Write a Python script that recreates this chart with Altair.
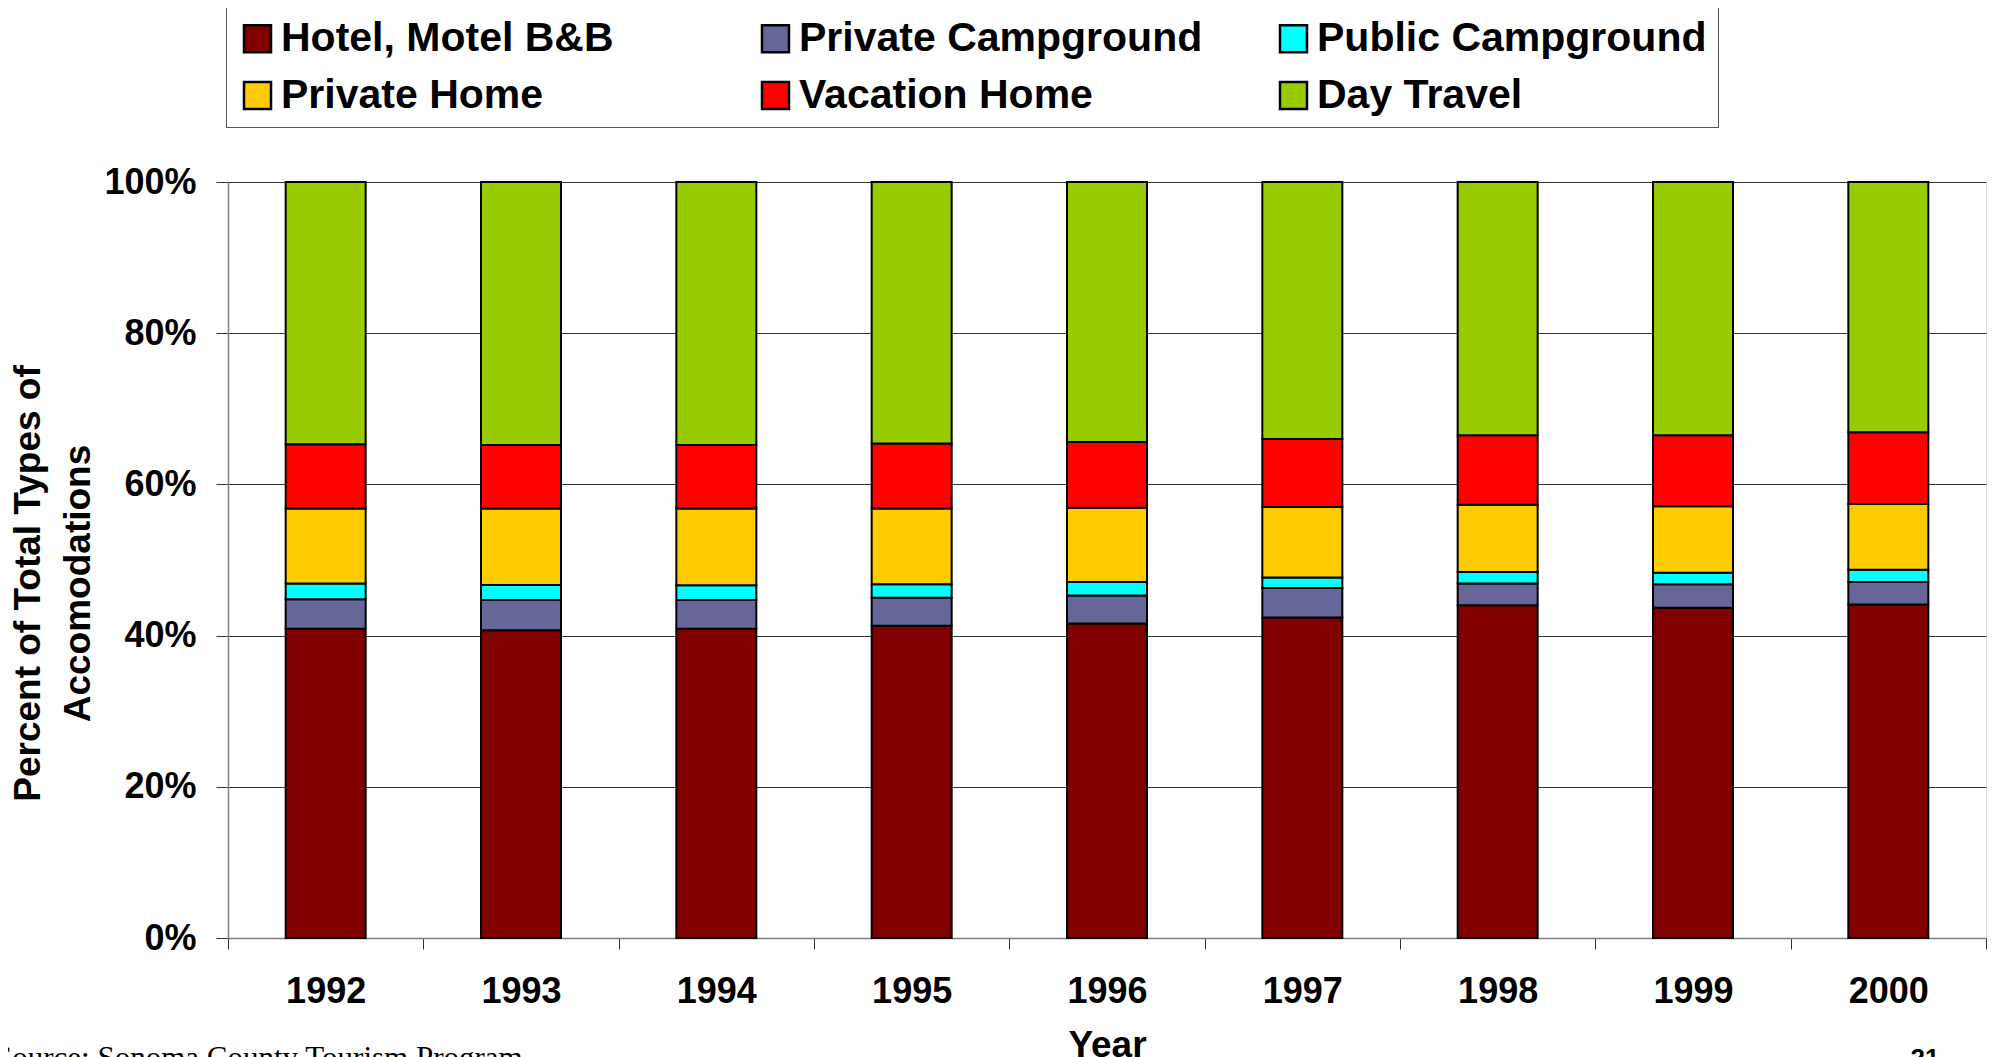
import altair as alt
import pandas as pd

years = ["1992", "1993", "1994", "1995", "1996", "1997", "1998", "1999", "2000"]
categories = ["Hotel, Motel B&B", "Private Campground", "Public Campground",
              "Private Home", "Vacation Home", "Day Travel"]
colors = ["#800000", "#666699", "#00FFFF", "#FFCC00", "#FF0000", "#99CC00"]

hotel = [40.9, 40.7, 40.9, 41.3, 41.6, 42.4, 44.0, 43.7, 44.1]
private_camp = [3.9, 4.0, 3.8, 3.7, 3.7, 3.9, 2.9, 3.1, 3.0]
public_camp = [2.1, 2.0, 1.95, 1.8, 1.8, 1.4, 1.5, 1.5, 1.6]
private_home = [9.9, 10.1, 10.15, 10.0, 9.8, 9.3, 8.9, 8.8, 8.7]
vacation_home = [8.5, 8.4, 8.4, 8.6, 8.7, 9.0, 9.2, 9.4, 9.5]
day_travel = [34.7, 34.8, 34.8, 34.6, 34.4, 34.0, 33.5, 33.5, 33.1]
series = [hotel, private_camp, public_camp, private_home, vacation_home, day_travel]

y_ticks = [0, 0.2, 0.4, 0.6, 0.8, 1.0]
y_title = ["Percent of Total Types of", "Accomodations"]
x_title = "Year"
source_note = "Source: Sonoma County Tourism Program"
page_number = "21"

rows = []
for ci, (cat, vals) in enumerate(zip(categories, series)):
    for yr, v in zip(years, vals):
        rows.append({"Year": yr, "Type": cat, "Share": v, "idx": ci})
df = pd.DataFrame(rows)

FONT = "Liberation Sans"

bars = alt.Chart(df).mark_bar(size=80, stroke="black", strokeWidth=2).encode(
    x=alt.X("Year:N", sort=years,
            scale=alt.Scale(paddingInner=0, paddingOuter=0),
            axis=alt.Axis(title=x_title, labelAngle=0, tickBand="extent", tickSize=11,
                          tickColor="#333333", domainColor="#808080", domainWidth=1.5,
                          labelPadding=25, labelFont=FONT, labelFontSize=36,
                          labelFontWeight="bold", labelColor="black",
                          titleFont=FONT, titleFontSize=37, titleFontWeight="bold",
                          titleColor="black", titleBaseline="top", titleY=89,
                          titleX=879, titleAlign="center", grid=False)),
    y=alt.Y("Share:Q", stack="normalize", scale=alt.Scale(domain=[0, 1]),
            axis=alt.Axis(title=y_title, format=".0%", values=y_ticks, tickSize=12,
                          tickColor="#333333", domainColor="#808080", domainWidth=1.5,
                          gridColor="#333333", gridWidth=1, grid=True,
                          labelPadding=20, labelFont=FONT, labelFontSize=36,
                          labelFontWeight="bold", labelColor="black",
                          titleFont=FONT, titleFontSize=37, titleFontWeight="bold",
                          titleColor="black", titleAngle=270, titleAlign="center",
                          titleBaseline="alphabetic", titleX=-189, titleY=401,
                          titleLineHeight=50)),
    color=alt.Color("Type:N", sort=categories,
                    scale=alt.Scale(domain=categories, range=colors),
                    legend=alt.Legend(title=None, orient="none", legendX=-2, legendY=-175,
                                      direction="horizontal", columns=3, gridAlign="all",
                                      columnPadding=70, rowPadding=15,
                                      symbolType="square", symbolSize=729,
                                      symbolStrokeColor="black", symbolStrokeWidth=2.5,
                                      symbolOpacity=1,
                                      labelFont=FONT, labelFontSize=41,
                                      labelFontWeight="bold", labelColor="black",
                                      labelLimit=700, labelOffset=3,
                                      padding=11, strokeColor="#555555",
                                      fillColor="white")),
    order=alt.Order("idx:Q", sort="ascending"),
)

source_layer = alt.Chart(pd.DataFrame({"note": [source_note]})).mark_text(
    align="left", baseline="alphabetic", font="Liberation Serif", fontSize=31,
    color="black").encode(x=alt.value(-233), y=alt.value(886), text="note:N")

page_layer = alt.Chart(pd.DataFrame({"note": [page_number]})).mark_text(
    align="center", baseline="alphabetic", font=FONT, fontSize=26, fontWeight="bold",
    color="black").encode(x=alt.value(1697), y=alt.value(885), text="note:N")

chart = alt.layer(bars, source_layer, page_layer).properties(
    width=1758, height=756,
    autosize=alt.AutoSizeParams(type="none"),
    padding={"left": 220, "top": 174, "right": 6, "bottom": 119},
).configure_view(strokeOpacity=0).configure(font=FONT)

chart.save("out.html", embed_options={"renderer": "svg", "actions": False})
